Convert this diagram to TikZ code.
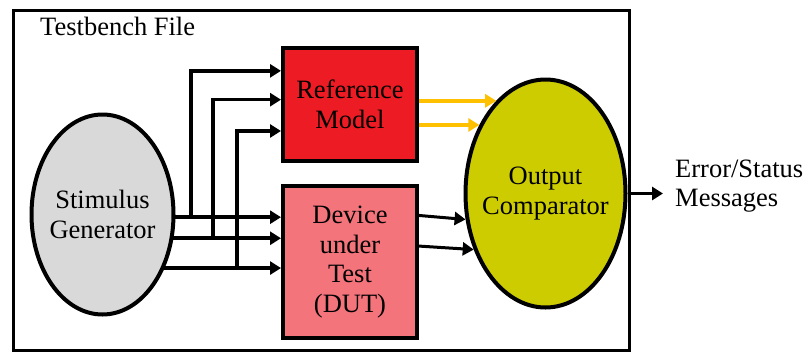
\documentclass[tikz,border=0pt]{standalone}
\usepackage{fontspec}
\setmainfont{Liberation Serif}
\usetikzlibrary{shapes.geometric, arrows.meta, backgrounds}
\definecolor{refred}{RGB}{237,28,36}
\definecolor{dutpink}{RGB}{244,116,124}
\definecolor{stimgray}{RGB}{217,217,217}
\definecolor{cmpolive}{RGB}{204,204,0}
\definecolor{outyellow}{RGB}{255,192,0}

\begin{document}
\begin{tikzpicture}[x=1pt, y=-1pt]
\tikzset{
font=\fontsize{26.5}{29.5}\selectfont, % large serif labels
>={Triangle[length=11pt, width=13pt]}, % filled arrow heads
wire/.style={->, line width=3.6pt}, % black signal lines
block/.style={draw, line width=4pt, minimum width=134pt, align=center}, % the two boxes
blob/.style={ellipse, draw, line width=4pt, align=center, inner xsep=-14pt, inner ysep=0pt}, % generator and comparator
}
	\useasboundingbox (0,0) rectangle (808,354);
	\node[draw, line width=3.5pt, minimum width=616pt, minimum height=340pt] (frame) at (321.5,180.5) {};
	\node[anchor=base west, inner sep=0pt] (title) at (40,35) {Testbench File};

	\node[blob, fill=stimgray, minimum width=142pt, minimum height=200pt] (stim) at (102.5,214.5) {Stimulus\\Generator};
	\node[block, fill=refred, minimum height=113pt] (ref) at (350,104.5) {Reference\\Model};
	\node[block, fill=dutpink, minimum height=152pt] (dut) at (350,262) {Device\\under\\Test\\(DUT)};
	\node[blob, fill=cmpolive, minimum width=160pt, minimum height=228pt] (cmp) at (545.5,193.5) {Output\\Comparator};
	\node[anchor=west, inner xsep=12pt, align=left] (msg) at (663,186) {Error/Status\\Messages};

	% tap points for the branches up to the reference model
	\coordinate (tap1) at (191,0);
	\coordinate (tap2) at (213,0);
	\coordinate (tap3) at (237,0);

	% stimulus lines start behind the generator
	\begin{scope}[on background layer]
	\draw[wire] (stim.center |- dut.147.7) -- (dut.147.7);
	\draw[wire] (stim.center |- dut.161) -- (dut.161);
	\draw[wire] (stim.center |- dut.185) -- (dut.185);
	\end{scope}
	\draw[wire] (tap1 |- dut.147.7) |- (ref.154.3);
	\draw[wire] (tap2 |- dut.161) |- (ref.176.3);
	\draw[wire] (tap3 |- dut.185) |- (ref.201.6);

	% expected and actual outputs
	\draw[wire, outyellow] (ref.east |- cmp.118) -- (cmp.118);
	\draw[wire, outyellow] (ref.east |- cmp.134) -- (cmp.134);
	\draw[wire, line width=3pt] (dut.34.1) -- (cmp.198);
	\draw[wire, line width=3pt] (dut.13.7) -- (cmp.218);
	\draw[wire] (cmp.east) -- (cmp.east -| msg.west);
\end{tikzpicture}
\end{document}
